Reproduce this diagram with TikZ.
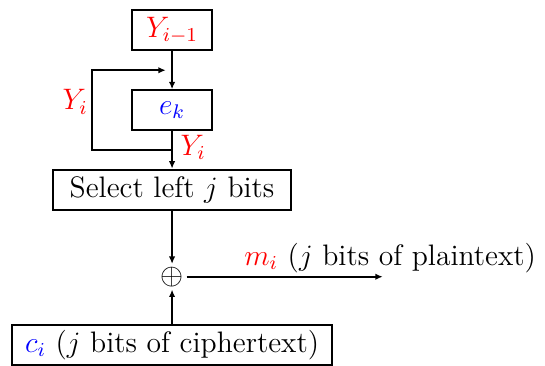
\documentclass[tikz,border=0pt]{standalone}
\usepackage{color,latexsym,amsmath,amssymb}
\usepackage{tikz}
\usetikzlibrary{arrows.meta}
\usetikzlibrary{shapes}

\tikzset{
  blk/.style={draw, thick, minimum height=0.57cm, inner sep=0pt},
  flow/.style={thick, -{Latex[length=3pt,width=2.6pt]}}
}

\begin{document}
\begin{tikzpicture}[font=\large]
              \useasboundingbox (0, 0) rectangle (7.76, -5.21);
              \node[blk, minimum width=1.15cm] (yprev) at (2.45, -0.43) {$\color{red}Y_{i-1}$};
              \node[blk, minimum width=1.15cm] (ek) at (2.45, -1.57) {$\color{blue}e_k$};
              \node[blk, minimum width=3.39cm] (sel) at (2.45, -2.70) {Select left $j$ bits};
              \node[inner sep=1pt] (xor) at (2.45, -3.94) {$\oplus$};
              \node[blk, minimum width=4.55cm] (ci) at (2.45, -4.91) {$\color{blue}c_i$ ($j$ bits of ciphertext)};
              \coordinate (tap) at (2.45, -2.13);
              \coordinate (join) at (2.36, -1.00);
              \coordinate (out) at (5.45, -3.94);
              \draw[flow] (yprev) -- (ek);
              \draw[flow] (ek) -- (sel);
              \draw[flow] (tap) -| (1.31, -1.00) -- (join);
              \node[red] (yleft) at (1.07, -1.45) {$Y_i$};
              \node[red] (yright) at (2.75, -2.10) {$Y_i$};
              \draw[flow] (sel) -- (xor);
              \draw[flow] (ci) -- (xor);
              \draw[flow] (xor) -- (out) node[above, xshift=3pt, yshift=-2pt] {$\color{red}m_i$ ($j$ bits of plaintext)};
            \end{tikzpicture}
\end{document}
